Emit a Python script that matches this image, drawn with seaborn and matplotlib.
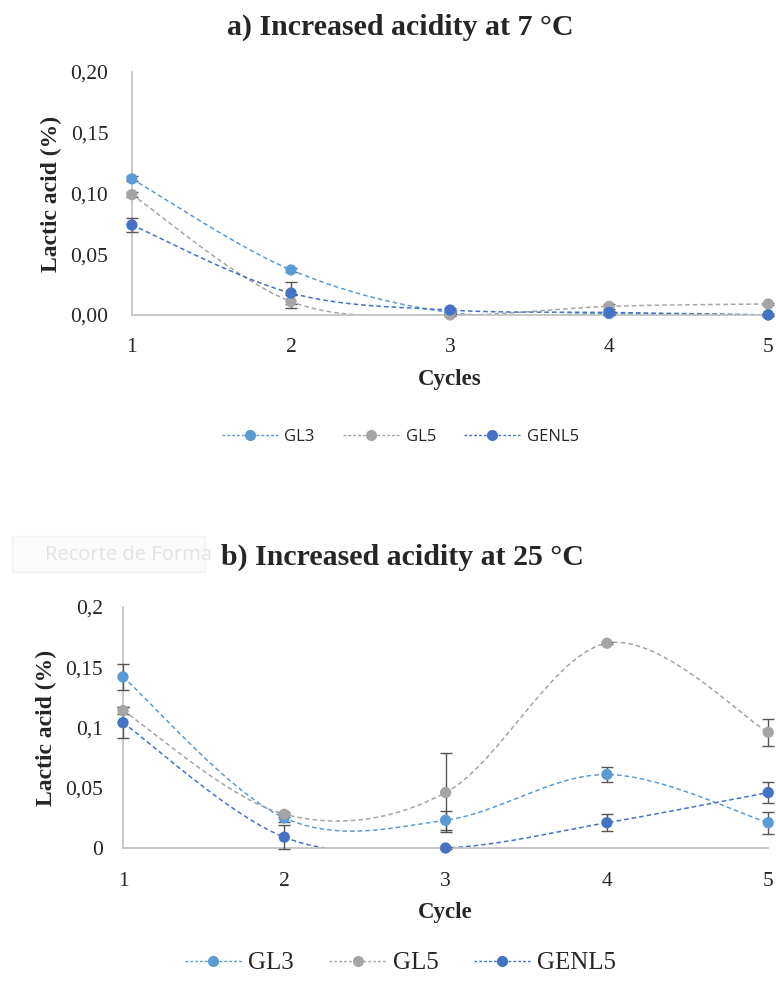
import numpy as np
import pandas as pd
import matplotlib
matplotlib.use("Agg")
import matplotlib.pyplot as plt
import seaborn as sns
from matplotlib.lines import Line2D
from matplotlib.patches import Rectangle

# ---------------- data ----------------
cycles = [1, 2, 3, 4, 5]
series_names = ["GL3", "GL5", "GENL5"]

a_gl3 = [0.112, 0.037, 0.002, 0.001, 0.000]
a_gl5 = [0.099, 0.011, 0.000, 0.007, 0.009]
a_genl5 = [0.074, 0.018, 0.004, 0.002, 0.000]
a_gl3_err = [0.002, 0.002, 0.001, 0.001, 0.001]
a_gl5_err = [0.002, 0.005, 0.001, 0.002, 0.001]
a_genl5_err = [0.006, 0.009, 0.002, 0.001, 0.001]

b_gl3 = [0.142, 0.025, 0.023, 0.061, 0.021]
b_gl5 = [0.114, 0.028, 0.046, 0.170, 0.096]
b_genl5 = [0.104, 0.009, 0.000, 0.021, 0.046]
b_gl3_err = [0.011, 0.003, 0.008, 0.006, 0.009]
b_gl5_err = [0.003, 0.002, 0.033, 0.001, 0.011]
b_genl5_err = [0.013, 0.010, 0.001, 0.007, 0.009]

a_yticks = [0.0, 0.05, 0.10, 0.15, 0.20]
a_yticklabels = ["0,00", "0,05", "0,10", "0,15", "0,20"]
b_yticks = [0.0, 0.05, 0.10, 0.15, 0.20]
b_yticklabels = ["0", "0,05", "0,1", "0,15", "0,2"]

colors = {"GL3": "#5B9BD5", "GL5": "#A5A5A5", "GENL5": "#4472C4"}

# ---------------- helpers ----------------
def excel_smooth(x, y, n=40):
    """Bezier smoothing like Excel's 'smoothed line' (plotting only)."""
    x = np.asarray(x, float); y = np.asarray(y, float)
    P = np.column_stack([x, y])
    out = []
    for i in range(len(P) - 1):
        p0 = P[i - 1] if i > 0 else P[i]
        p1 = P[i]; p2 = P[i + 1]
        p3 = P[i + 2] if i + 2 < len(P) else P[i + 1]
        c1 = p1 + (p2 - p0) / 6.0
        c2 = p2 - (p3 - p1) / 6.0
        t = np.linspace(0, 1, n)[:, None]
        seg = ((1 - t) ** 3) * p1 + 3 * ((1 - t) ** 2) * t * c1 + 3 * (1 - t) * t ** 2 * c2 + t ** 3 * p2
        out.append(seg if i == 0 else seg[1:])
    return np.vstack(out)

sns.set_theme(style="white")
plt.rcParams["font.family"] = ["Liberation Serif", "DejaVu Serif"]

fig = plt.figure(figsize=(7.76, 9.84), dpi=100)
ax_a = fig.add_axes([0.170, 0.680, 0.820, 0.2468])
ax_b = fig.add_axes([0.1585, 0.1382, 0.8315, 0.2449])

def draw(ax, vals, errs, yticks, yticklabels, xlabel, ypad, legend_font, legend_size,
         legend_y, handlelength, columnspacing, handletextpad):
    rows_pts = []
    for name, v in zip(series_names, vals):
        for c, val in zip(cycles, v):
            rows_pts.append({"Cycle": c, "value": val, "series": name})
    pts = pd.DataFrame(rows_pts)
    rows_curve = []
    for name, v in zip(series_names, vals):
        cur = excel_smooth(cycles, v)
        for cx, cy in cur:
            rows_curve.append({"x": cx, "y": cy, "series": name})
    curve = pd.DataFrame(rows_curve)
    sns.lineplot(data=curve, x="x", y="y", hue="series", palette=colors,
                 hue_order=series_names, sort=False, estimator=None, ax=ax,
                 linewidth=1.1, linestyle=(0, (3, 2)), legend=False)
    for name, v, e in zip(series_names, vals, errs):
        ax.errorbar(cycles, v, yerr=e, fmt="none", ecolor="#555555",
                    elinewidth=1.0, capsize=4, capthick=1.0, zorder=3, clip_on=False)
    sns.scatterplot(data=pts, x="Cycle", y="value", hue="series", palette=colors,
                    hue_order=series_names, s=66, edgecolor="none", ax=ax,
                    legend=False, zorder=4, clip_on=False)
    ax.set_xlim(1, 5)
    ax.set_ylim(0, 0.2)
    ax.set_xticks(cycles)
    ax.set_xticklabels([str(c) for c in cycles], fontsize=15.5)
    ax.set_yticks(yticks)
    ax.set_yticklabels(yticklabels, fontsize=15.5)
    ax.tick_params(axis="y", length=0, pad=ypad)
    ax.tick_params(axis="x", length=0, pad=17)
    for s in ["top", "right"]:
        ax.spines[s].set_visible(False)
    for s in ["left", "bottom"]:
        ax.spines[s].set_color("#BFBFBF")
        ax.spines[s].set_linewidth(1.2)
    ax.set_xlabel(xlabel, fontsize=16.5, fontweight="bold", labelpad=8)
    ax.set_ylabel("Lactic acid (%)", fontsize=17, fontweight="bold", labelpad=6)
    handles = [Line2D([0], [0], color=colors[n], linestyle=(0, (2, 1.5)), linewidth=1,
                      marker="o", markersize=8, markeredgewidth=0) for n in series_names]
    fig.legend(handles, series_names, loc="center", bbox_to_anchor=(0.516, legend_y),
               ncol=3, frameon=False, prop={"family": legend_font, "size": legend_size},
               handlelength=handlelength, columnspacing=columnspacing,
               handletextpad=handletextpad)

draw(ax_a, [a_gl3, a_gl5, a_genl5], [a_gl3_err, a_gl5_err, a_genl5_err],
     a_yticks, a_yticklabels, "Cycles", 17, "Open Sans", 12, 1 - 437 / 984, 3.35, 1.7, 0.4)
draw(ax_b, [b_gl3, b_gl5, b_genl5], [b_gl3_err, b_gl5_err, b_genl5_err],
     b_yticks, b_yticklabels, "Cycle", 14.5, "Liberation Serif", 18, 1 - 963 / 984, 2.3, 1.4, 0.25)

fig.patches.append(Rectangle((12 / 776, 1 - 572 / 984), 193 / 776, 36 / 984,
                             transform=fig.transFigure, facecolor="#FBFBFB",
                             edgecolor="#F3F3F3", linewidth=1, zorder=0))
fig.text(45 / 776, 1 - 555 / 984, "Recorte de Forma", fontsize=14.5, color="#E3E3E3",
         family="Open Sans", va="center", ha="left", zorder=1)
fig.text(0.516, 1 - 27 / 984, "a) Increased acidity at 7 \u00b0C", fontsize=21.5,
         fontweight="bold", ha="center", va="center", zorder=3)
fig.text(0.519, 1 - 557 / 984, "b) Increased acidity at 25 \u00b0C", fontsize=21.5,
         fontweight="bold", ha="center", va="center", zorder=3,
         bbox=dict(boxstyle="square,pad=0.05", facecolor="white", edgecolor="none"))

fig.savefig("out.png", dpi=100, facecolor="white")
